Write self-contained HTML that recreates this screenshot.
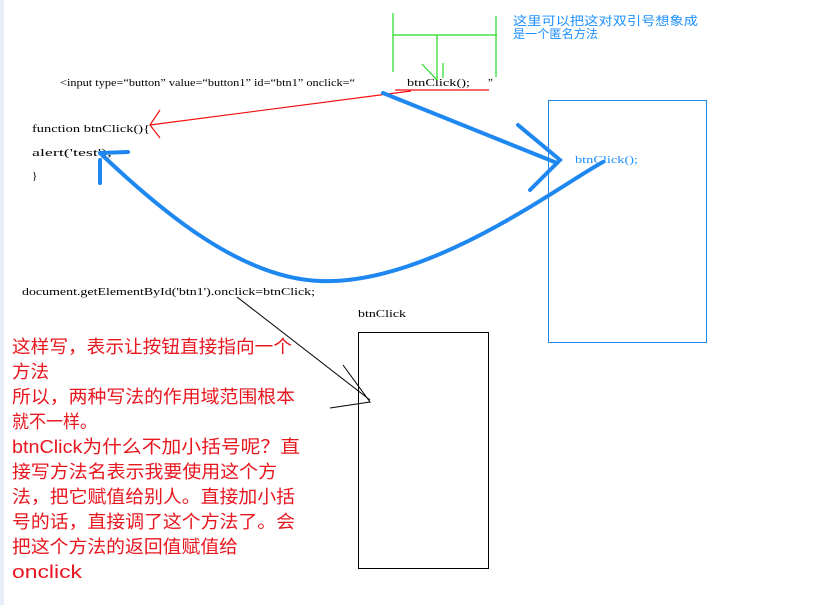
<!DOCTYPE html>
<html><head><meta charset="utf-8"><style>
html,body{margin:0;padding:0;background:#fff;width:822px;height:605px;overflow:hidden}
svg{display:block}
.c{font-family:"Liberation Serif","Noto Serif CJK SC",serif;font-size:11px;fill:#000}
.r{font-family:"Liberation Sans","Noto Sans CJK SC",sans-serif;font-size:18px;fill:#e8161e}
.b{font-family:"Liberation Sans","Noto Sans CJK SC",sans-serif;font-size:12px;fill:#1e90ff}
</style></head><body>
<svg width="822" height="605" xmlns="http://www.w3.org/2000/svg">
<rect x="0" y="0" width="4" height="605" fill="#e8eef8"/>
<text class="c" x="60" y="86" textLength="295" lengthAdjust="spacingAndGlyphs">&lt;input type=“button” value=“button1” id=“btn1” onclick=“</text>
<text class="c" x="407" y="86" textLength="63" lengthAdjust="spacingAndGlyphs">btnClick();</text>
<text class="c" x="488" y="86">”</text>
<text class="c" x="32" y="132" textLength="118" lengthAdjust="spacingAndGlyphs">function btnClick(){</text>
<text class="c" x="32" y="156" textLength="80" lengthAdjust="spacingAndGlyphs">alert('test');</text>
<text class="c" x="32" y="179">}</text>
<text class="c" x="22" y="295" textLength="293" lengthAdjust="spacingAndGlyphs">document.getElementById('btn1').onclick=btnClick;</text>
<text class="c" x="358" y="317" textLength="48" lengthAdjust="spacingAndGlyphs">btnClick</text>
<text class="c" x="575" y="163" textLength="63" lengthAdjust="spacingAndGlyphs" style="fill:#1e90ff">btnClick();</text>
<text class="b" x="513" y="25" textLength="185" lengthAdjust="spacingAndGlyphs">这里可以把这对双引号想象成</text>
<text class="b" x="513" y="38" textLength="85" lengthAdjust="spacingAndGlyphs">是一个匿名方法</text>
<g class="r" lengthAdjust="spacingAndGlyphs">
<text x="12" y="353" textLength="280" lengthAdjust="spacingAndGlyphs">这样写，表示让按钮直接指向一个</text>
<text x="12" y="378" textLength="37" lengthAdjust="spacingAndGlyphs">方法</text>
<text x="12" y="403" textLength="283" lengthAdjust="spacingAndGlyphs">所以，两种写法的作用域范围根本</text>
<text x="12" y="428" textLength="85" lengthAdjust="spacingAndGlyphs">就不一样。</text>
<text x="12" y="453" textLength="288" lengthAdjust="spacingAndGlyphs">btnClick为什么不加小括号呢？直</text>
<text x="12" y="478" textLength="265" lengthAdjust="spacingAndGlyphs">接写方法名表示我要使用这个方</text>
<text x="12" y="503" textLength="283" lengthAdjust="spacingAndGlyphs">法，把它赋值给别人。直接加小括</text>
<text x="12" y="528" textLength="283" lengthAdjust="spacingAndGlyphs">号的话，直接调了这个方法了。会</text>
<text x="12" y="553" textLength="226" lengthAdjust="spacingAndGlyphs">把这个方法的返回值赋值给</text>
<text x="12" y="578" textLength="70" lengthAdjust="spacingAndGlyphs">onclick</text>
</g>
<g stroke="#22dd22" stroke-width="1.2" fill="none">
<line x1="393" y1="13" x2="393" y2="72"/>
<line x1="393" y1="35" x2="497" y2="35"/>
<line x1="496" y1="16" x2="496" y2="77"/>
<line x1="437" y1="35" x2="437" y2="80"/>
<line x1="443" y1="63" x2="443" y2="78"/>
<line x1="422" y1="64" x2="437" y2="80"/>
</g>
<g stroke="#f01010" stroke-width="1.2" fill="none">
<line x1="395" y1="90" x2="489" y2="90"/>
<line x1="411" y1="91" x2="150" y2="125"/>
<polyline points="160,110 150,125 160,138"/>
</g>
<g stroke="#1e88f0" stroke-width="4" fill="none" stroke-linecap="round">
<line x1="383" y1="93" x2="557" y2="163"/>
<polyline points="518,125 560,160 530,190"/>
<path d="M603,162 C560,185 430,285 320,281 C240,278 160,210 100,153"/>
<line x1="100" y1="153" x2="128" y2="152"/>
<line x1="100" y1="160" x2="100" y2="183"/>
</g>
<g stroke="#000" stroke-width="1" fill="none">
<line x1="237" y1="297" x2="370" y2="400"/>
<polyline points="343,365 370,402 330,408"/>
<rect x="358.5" y="332.5" width="130" height="236"/>
</g>
<rect x="548.5" y="100.5" width="158" height="242" fill="none" stroke="#1e88f0" stroke-width="1"/>
</svg>
</body></html>
